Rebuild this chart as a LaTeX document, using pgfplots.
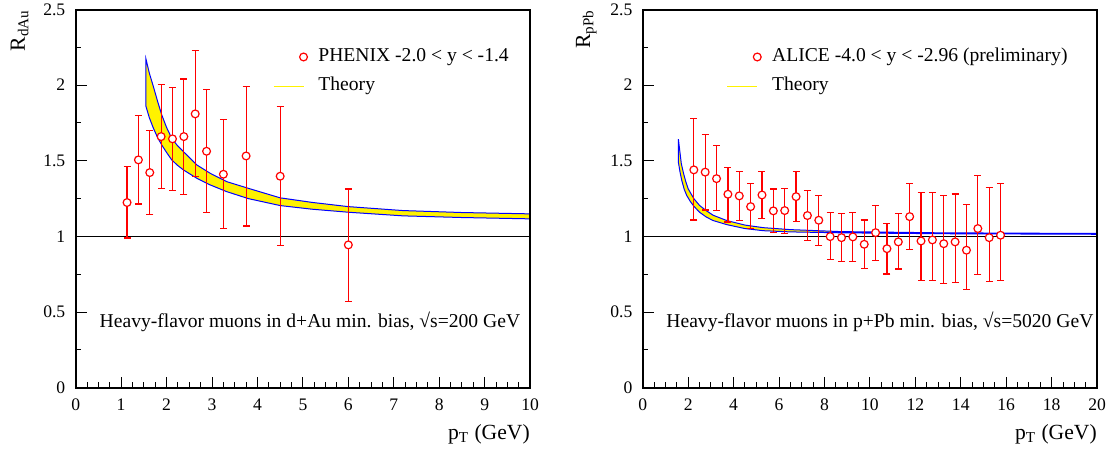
\documentclass[border=0pt]{standalone}
\usepackage{fontspec}
\setmainfont{Liberation Serif}
\usepackage{pgfplots}
\pgfplotsset{compat=1.18}
\usepackage{pgfplotstable}

% PHENIX d+Au points: pT, R, upper and lower end of the error bar
\pgfplotstableread{
x    y     hi    lo
1.13 1.224 1.462 0.990
1.38 1.506 1.800 1.215
1.63 1.422 1.702 1.147
1.88 1.660 2.004 1.319
2.13 1.645 1.987 1.301
2.38 1.660 2.040 1.279
2.63 1.810 2.227 1.396
2.88 1.563 1.971 1.160
3.25 1.411 1.772 1.052
3.75 1.532 1.993 1.069
4.50 1.398 1.858 0.939
6.00 0.944 1.314 0.571
}\phenix

% ALICE p+Pb points
\pgfplotstableread{
x     y     hi    lo
2.25  1.440 1.782 1.109
2.75  1.425 1.676 1.175
3.25  1.382 1.603 1.171
3.75  1.279 1.458 1.096
4.25  1.268 1.431 1.105
4.75  1.197 1.352 1.054
5.25  1.274 1.427 1.118
5.75  1.169 1.314 1.025
6.25  1.171 1.319 1.021
6.75  1.263 1.427 1.098
7.25  1.138 1.303 0.975
7.75  1.107 1.272 0.939
8.25  0.999 1.160 0.847
8.75  0.992 1.153 0.836
9.25  0.997 1.160 0.833
9.75  0.948 1.109 0.787
10.25 1.025 1.204 0.843
10.75 0.919 1.085 0.752
11.25 0.964 1.149 0.785
11.75 1.131 1.352 0.911
12.25 0.970 1.290 0.708
12.75 0.977 1.292 0.708
13.25 0.952 1.268 0.690
13.75 0.964 1.281 0.694
14.25 0.909 1.210 0.651
14.75 1.052 1.402 0.750
15.25 0.992 1.323 0.704
15.75 1.008 1.349 0.710
}\alice

\pgfplotsset{
  rootstyle/.style={
    scale only axis, width=227.2pt, height=189.1pt,
    ymin=0, ymax=2.5, ytick={0,0.5,1,1.5,2,2.5}, minor y tick num=1,
    axis lines=box,
    tick pos=left, tick align=inside,
    major tick length=5.5pt, minor tick length=2.75pt,
    axis line style={black, line width=0.75pt},
    tick style={black, line width=0.5pt},
    ticklabel style={font=\fontsize{8.8}{10}\selectfont},
    /pgf/number format/assume math mode=true,
    yticklabel style={anchor=east, inner sep=0pt, xshift=-5pt},
    xticklabel style={anchor=north, inner sep=0pt, yshift=-5.3pt},
    legend cell align=left,
    legend style={draw=none, fill=none, inner sep=0pt, outer sep=0pt,
      anchor=north west, font=\fontsize{9.8}{12}\selectfont,
      nodes={inner sep=0pt, text height=7pt, text depth=2.5pt},
      row sep=5.15pt,
      /tikz/every odd column/.append style={column sep=5.5pt}},
  },
  datapts/.style={red, line width=0.6pt, only marks, mark=*, mark size=1.95pt,
    mark options={fill=white, draw=red, line width=0.6pt},
    error bars/y dir=both, error bars/y explicit,
    error bars/error mark=|,
    error bars/error bar style={line width=0.6pt, red},
    error bars/error mark options={red, mark size=1.75pt, line width=0.6pt}},
  band/.style={fill=yellow, draw=blue, line width=0.5pt},
  circimg/.style={legend image code/.code={
    \draw[red, line width=0.6pt, mark=*, mark size=1.95pt,
      mark options={fill=white, draw=red}] plot coordinates {(15pt,0pt)};}},
  lineimg/.style={legend image code/.code={
    \draw[yellow, line width=0.5pt] (0pt,0pt) -- (15pt,0pt);}},
}

\begin{document}
\begin{tikzpicture}
\useasboundingbox (-37.85pt,-32.15pt) rectangle (517.65pt,193.85pt);

\begin{axis}[rootstyle, name=L, xmin=0, xmax=10, xtick={0,1,...,10}, minor x tick num=3,
  legend style={at={(axis cs:4.343,2.249)}}]
\addlegendimage{circimg}
\addlegendentry{PHENIX -2.0 < y < -1.4}
\addlegendimage{lineimg}
\addlegendentry{Theory}
\addplot[band, forget plot] coordinates {
 (1.547,2.172) (1.62,2.080) (1.709,1.991) (1.80,1.895) (1.893,1.804) (2.00,1.720)
 (2.113,1.649) (2.24,1.600) (2.369,1.561) (2.663,1.473) (2.956,1.418) (3.324,1.362)
 (3.80,1.318) (4.5,1.255) (5.2,1.225) (6.0,1.197) (7.2,1.171) (8.5,1.158) (10.2,1.148)
 (10.2,1.115) (8.5,1.125) (7.2,1.136) (6.0,1.160) (5.2,1.180) (4.5,1.204) (3.8,1.250)
 (3.324,1.296) (2.956,1.341) (2.663,1.385) (2.369,1.440) (2.24,1.470) (2.113,1.506)
 (2.00,1.555) (1.893,1.605) (1.80,1.655) (1.709,1.716) (1.62,1.785) (1.547,1.859)
} -- cycle;
\addplot[black, line width=0.5pt, forget plot] coordinates {(0,1) (10,1)};
\addplot[forget plot, datapts] table[x=x, y=y,
  y error plus expr=\thisrow{hi}-\thisrow{y},
  y error minus expr=\thisrow{y}-\thisrow{lo}] {\phenix};
\node[anchor=base west, inner sep=0pt, font=\fontsize{9.8}{12}\selectfont] at (axis cs:0.52,0.395)
  {Heavy-flavor muons in d+Au min. bias, √s=200 GeV};
\end{axis}
\draw[black, line width=1pt] (L.south west) -- (L.north west) -- (L.north east) -- (L.south east) -- cycle;

\begin{axis}[rootstyle, name=R, at={(283.5pt,0pt)}, xmin=0, xmax=20, xtick={0,2,...,20}, minor x tick num=3,
  legend style={at={(axis cs:3.70,2.249)}}]
\addlegendimage{circimg}
\addlegendentry{ALICE -4.0 < y < -2.96 (preliminary)}
\addlegendimage{lineimg}
\addlegendentry{Theory}
\addplot[band, forget plot] coordinates {
 (1.57,1.643) (1.62,1.580) (1.70,1.480) (1.80,1.415) (1.90,1.360) (2.00,1.315)
 (2.25,1.250) (2.50,1.205) (2.80,1.170) (3.10,1.140) (3.70,1.105) (4.50,1.075)
 (5.30,1.058) (6.50,1.045) (8.70,1.032) (13.0,1.024) (20.5,1.019)
 (20.5,1.014) (13.0,1.018) (8.70,1.024) (6.50,1.030) (5.30,1.038) (4.50,1.052)
 (3.70,1.078) (3.10,1.105) (2.80,1.128) (2.50,1.160) (2.25,1.200) (2.10,1.230)
 (1.94,1.270) (1.83,1.310) (1.72,1.370) (1.65,1.420) (1.57,1.490)
} -- cycle;
\addplot[black, line width=0.5pt, forget plot] coordinates {(0,1) (20,1)};
\addplot[forget plot, datapts] table[x=x, y=y,
  y error plus expr=\thisrow{hi}-\thisrow{y},
  y error minus expr=\thisrow{y}-\thisrow{lo}] {\alice};
\node[anchor=base west, inner sep=0pt, font=\fontsize{9.8}{12}\selectfont] at (axis cs:1.026,0.395)
  {Heavy-flavor muons in p+Pb min. bias, √s=5020 GeV};
\end{axis}
\draw[black, line width=1pt] (R.south west) -- (R.north west) -- (R.north east) -- (R.south east) -- cycle;

\node[rotate=90, anchor=base east, font=\fontsize{10.8}{12}\selectfont, inner sep=0pt]
  at ([xshift=-25.35pt]L.north west) {R\textsubscript{dAu}};
\node[rotate=90, anchor=base east, font=\fontsize{10.8}{12}\selectfont, inner sep=0pt]
  at ([xshift=-26.3pt]R.north west) {R\textsubscript{pPb}};
\node[anchor=base east, font=\fontsize{10.8}{12}\selectfont, inner sep=0pt]
  at ([yshift=-25.8pt]L.south east) {p\textsubscript{T} (GeV)};
\node[anchor=base east, font=\fontsize{10.8}{12}\selectfont, inner sep=0pt]
  at ([yshift=-25.8pt]R.south east) {p\textsubscript{T} (GeV)};
\end{tikzpicture}
\end{document}
